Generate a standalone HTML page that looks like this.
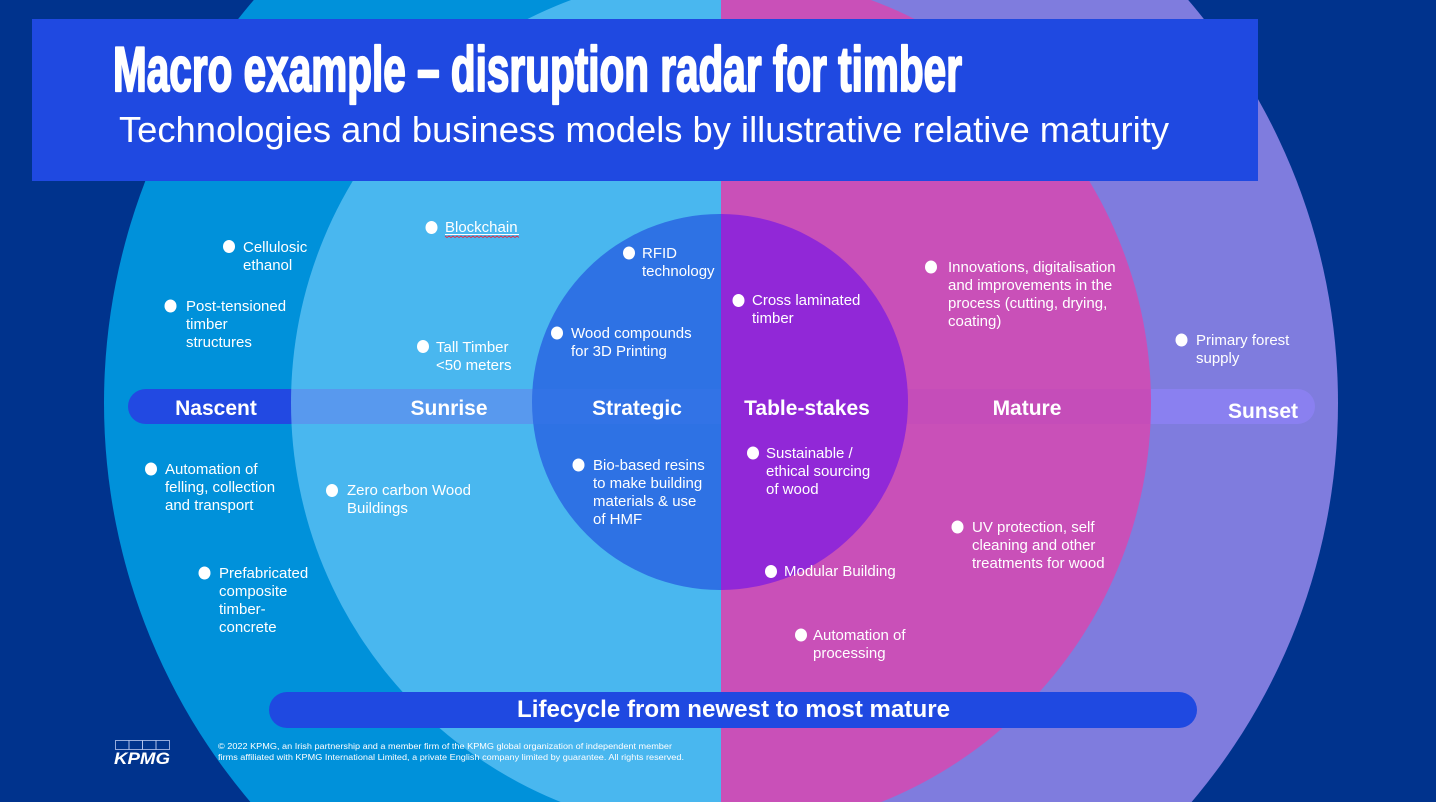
<!DOCTYPE html>
<html><head><meta charset="utf-8"><style>
html,body{margin:0;padding:0;background:#00338d;width:1436px;height:802px;overflow:hidden;}
svg{display:block;}
text{font-family:"Liberation Sans",Arial,sans-serif;fill:#fff;}
</style></head><body>
<svg width="1436" height="802" viewBox="0 0 1436 802" xmlns="http://www.w3.org/2000/svg">
<defs>
<clipPath id="L"><rect x="0" y="0" width="721" height="802"/></clipPath>
<clipPath id="R"><rect x="721" y="0" width="715" height="802"/></clipPath>
<clipPath id="B"><rect x="128" y="389" width="1187" height="35" rx="17.5"/></clipPath>
</defs>
<rect width="1436" height="802" fill="#00338d"/>
<g clip-path="url(#L)">
<circle cx="721" cy="403" r="617" fill="#0091da"/>
<circle cx="721" cy="403" r="430" fill="#49b7ef"/>
<circle cx="720" cy="402" r="188" fill="#2e72e4"/>
</g>
<g clip-path="url(#R)">
<circle cx="721" cy="403" r="617" fill="#7f7cde"/>
<circle cx="721" cy="403" r="430" fill="#c950b8"/>
<circle cx="720" cy="402" r="188" fill="#9128d7"/>
</g>
<g clip-path="url(#B)">
<rect x="100" y="380" width="621" height="60" fill="#2249e2"/>
<rect x="721" y="380" width="700" height="60" fill="#8a80f0"/>
<g clip-path="url(#L)">
<circle cx="721" cy="403" r="430" fill="#5899ee"/>
<circle cx="720" cy="402" r="188" fill="#3273e6"/>
</g>
<g clip-path="url(#R)">
<circle cx="721" cy="403" r="430" fill="#c54db9"/>
<circle cx="720" cy="402" r="188" fill="#9128d7"/>
</g>
</g>
<!-- header -->
<rect x="32" y="19" width="1226" height="162" fill="#1f49e1"/>
<text x="113" y="91" font-size="63" font-weight="bold" textLength="849" lengthAdjust="spacingAndGlyphs" stroke="#fff" stroke-width="2.2" stroke-linejoin="round">Macro example – disruption radar for timber</text>
<text x="119" y="142" font-size="36" textLength="1050" lengthAdjust="spacingAndGlyphs">Technologies and business models by illustrative relative maturity</text>

<!-- band labels -->
<g font-size="21" font-weight="bold" text-anchor="middle">
<text x="216" y="415">Nascent</text>
<text x="449" y="415">Sunrise</text>
<text x="637" y="415">Strategic</text>
<text x="807" y="415">Table-stakes</text>
<text x="1027" y="415">Mature</text>
<text x="1263" y="418">Sunset</text>
</g>

<!-- bullets -->
<g fill="#fff">
<ellipse cx="229" cy="246.5" rx="6" ry="6.5"/>
<ellipse cx="170.5" cy="306" rx="6" ry="6.5"/>
<ellipse cx="431.5" cy="227.5" rx="6" ry="6.5"/>
<ellipse cx="629" cy="253" rx="6" ry="6.5"/>
<ellipse cx="557" cy="333" rx="6" ry="6.5"/>
<ellipse cx="423" cy="346.5" rx="6" ry="6.5"/>
<ellipse cx="738.5" cy="300.5" rx="6" ry="6.5"/>
<ellipse cx="931" cy="267" rx="6" ry="6.5"/>
<ellipse cx="1181.5" cy="340" rx="6" ry="6.5"/>
<ellipse cx="151" cy="469" rx="6" ry="6.5"/>
<ellipse cx="332" cy="490.5" rx="6" ry="6.5"/>
<ellipse cx="578.5" cy="465" rx="6" ry="6.5"/>
<ellipse cx="204.5" cy="573" rx="6" ry="6.5"/>
<ellipse cx="753" cy="453" rx="6" ry="6.5"/>
<ellipse cx="957.5" cy="527" rx="6" ry="6.5"/>
<ellipse cx="771" cy="571.5" rx="6" ry="6.5"/>
<ellipse cx="801" cy="635" rx="6" ry="6.5"/>
</g>

<g font-size="15">
<text x="243" y="252"><tspan x="243">Cellulosic</tspan><tspan x="243" dy="18">ethanol</tspan></text>
<text x="186" y="311"><tspan x="186">Post-tensioned</tspan><tspan x="186" dy="18">timber</tspan><tspan x="186" dy="18">structures</tspan></text>
<text x="445" y="232">Blockchain</text>
<text x="642" y="258"><tspan x="642">RFID</tspan><tspan x="642" dy="18">technology</tspan></text>
<text x="571" y="338"><tspan x="571">Wood compounds</tspan><tspan x="571" dy="18">for 3D Printing</tspan></text>
<text x="436" y="352"><tspan x="436">Tall Timber</tspan><tspan x="436" dy="18">&lt;50 meters</tspan></text>
<text x="752" y="305"><tspan x="752">Cross laminated</tspan><tspan x="752" dy="18">timber</tspan></text>
<text x="948" y="272"><tspan x="948">Innovations, digitalisation</tspan><tspan x="948" dy="18">and improvements in the</tspan><tspan x="948" dy="18">process (cutting, drying,</tspan><tspan x="948" dy="18">coating)</tspan></text>
<text x="1196" y="345"><tspan x="1196">Primary forest</tspan><tspan x="1196" dy="18">supply</tspan></text>
<text x="165" y="474"><tspan x="165">Automation of</tspan><tspan x="165" dy="18">felling, collection</tspan><tspan x="165" dy="18">and transport</tspan></text>
<text x="347" y="495"><tspan x="347">Zero carbon Wood</tspan><tspan x="347" dy="18">Buildings</tspan></text>
<text x="593" y="470"><tspan x="593">Bio-based resins</tspan><tspan x="593" dy="18">to make building</tspan><tspan x="593" dy="18">materials &amp; use</tspan><tspan x="593" dy="18">of HMF</tspan></text>
<text x="219" y="578"><tspan x="219">Prefabricated</tspan><tspan x="219" dy="18">composite</tspan><tspan x="219" dy="18">timber-</tspan><tspan x="219" dy="18">concrete</tspan></text>
<text x="766" y="458"><tspan x="766">Sustainable /</tspan><tspan x="766" dy="18">ethical sourcing</tspan><tspan x="766" dy="18">of wood</tspan></text>
<text x="972" y="532"><tspan x="972">UV protection, self</tspan><tspan x="972" dy="18">cleaning and other</tspan><tspan x="972" dy="18">treatments for wood</tspan></text>
<text x="784" y="576">Modular Building</text>
<text x="813" y="640"><tspan x="813">Automation of</tspan><tspan x="813" dy="18">processing</tspan></text>
</g>
<line x1="445" y1="234.5" x2="519" y2="234.5" stroke="#fff" stroke-width="1"/>
<polyline points="445,236 447,237.5 449,236 451,237.5 453,236 455,237.5 457,236 459,237.5 461,236 463,237.5 465,236 467,237.5 469,236 471,237.5 473,236 475,237.5 477,236 479,237.5 481,236 483,237.5 485,236 487,237.5 489,236 491,237.5 493,236 495,237.5 497,236 499,237.5 501,236 503,237.5 505,236 507,237.5 509,236 511,237.5 513,236 515,237.5 517,236 519,237.5" fill="none" stroke="#e0304a" stroke-width="0.9"/>

<!-- lifecycle bar -->
<rect x="269" y="692" width="928" height="36" rx="18" fill="#1f49e1"/>
<text x="733.5" y="717" font-size="24" font-weight="bold" text-anchor="middle" textLength="433" lengthAdjust="spacingAndGlyphs">Lifecycle from newest to most mature</text>

<!-- footer -->
<g fill="none" stroke="#b9c7f0" stroke-width="0.8">
<rect x="115.5" y="740.5" width="13.5" height="9"/>
<rect x="129" y="740.5" width="13.5" height="9"/>
<rect x="142.5" y="740.5" width="13.5" height="9"/>
<rect x="156" y="740.5" width="13.5" height="9"/>
</g>
<text x="114" y="764" font-size="17" font-weight="bold" font-style="italic" textLength="56" lengthAdjust="spacingAndGlyphs">KPMG</text>
<text x="218" y="749" font-size="8.6" textLength="454" lengthAdjust="spacingAndGlyphs">© 2022 KPMG, an Irish partnership and a member firm of the KPMG global organization of independent member</text>
<text x="218" y="760" font-size="8.6" textLength="466" lengthAdjust="spacingAndGlyphs">firms affiliated with KPMG International Limited, a private English company limited by guarantee. All rights reserved.</text>
</svg>
</body></html>
